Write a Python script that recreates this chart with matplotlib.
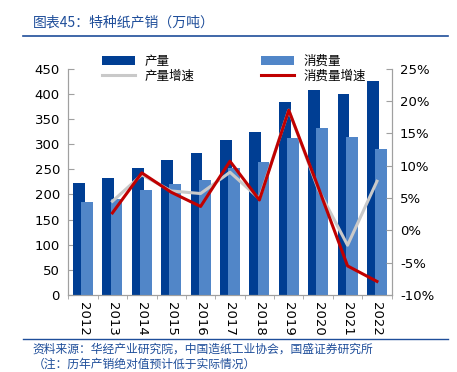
import numpy as np
import matplotlib
matplotlib.use("Agg")
import matplotlib.pyplot as plt
from matplotlib.ticker import FuncFormatter

plt.rcParams['font.family'] = ['DejaVu Sans', 'Noto Sans CJK SC']

# data
years = ['2012', '2013', '2014', '2015', '2016', '2017', '2018', '2019', '2020', '2021', '2022']
production = [222, 233, 253, 269, 283, 309, 324, 384, 408, 399, 426]
consumption = [186, 190, 208, 220, 228, 253, 264, 312, 333, 315, 290]
prod_growth = [np.nan, 4.5, 8.6, 6.1, 5.7, 9.0, 4.9, 18.6, 6.4, -2.3, 7.6]
cons_growth = [np.nan, 2.7, 8.9, 5.9, 3.7, 10.7, 4.7, 18.6, 6.7, -5.5, -7.9]

dark_blue = '#003e93'
light_blue = '#5186c8'
grey = '#c9c9c9'
red = '#c00000'
axis_grey = '#a0a0a0'
cjk = ['Noto Sans CJK SC', 'DejaVu Sans']

fig = plt.figure(figsize=(4.57, 3.72), dpi=100)
ax = fig.add_axes([0.1495, 0.207, 0.7075, 0.608])
ax2 = ax.twinx()

x = np.arange(len(years))
w = 0.4
b1 = ax.bar(x - 0.14, production, w, color=dark_blue, zorder=2)
b2 = ax.bar(x + 0.14, consumption, w, color=light_blue, zorder=3)

l1, = ax2.plot(x, prod_growth, color=grey, lw=2.2, zorder=4)
l2, = ax2.plot(x, cons_growth, color=red, lw=2.2, zorder=5)

ax.set_xlim(-0.5, len(years) - 0.5)
ax.set_ylim(0, 450)
ax.set_yticks(range(0, 451, 50))
ax2.set_ylim(-10, 25)
ax2.set_yticks(range(-10, 26, 5))
ax2.yaxis.set_major_formatter(FuncFormatter(lambda v, p: '%d%%' % v))

ax.set_xticks(x)
ax.set_xticklabels(years, rotation=-90)
ax.set_xticks(np.arange(-0.5, len(years), 1), minor=True)
ax.tick_params(axis='x', which='major', length=0, pad=5, labelsize=9.5)
ax.tick_params(axis='x', which='minor', length=3, direction='out', color=axis_grey)
ax.tick_params(axis='y', direction='in', length=4, color=axis_grey, labelsize=9.5, pad=6)
ax2.tick_params(axis='y', direction='in', length=4, color=axis_grey, labelsize=9.5, pad=6)

for a in (ax, ax2):
    a.spines['top'].set_visible(False)
    for s in ('left', 'right', 'bottom'):
        a.spines[s].set_color(axis_grey)
        a.spines[s].set_linewidth(0.8)

ax.set_zorder(ax2.get_zorder() - 1)
ax2.patch.set_visible(False)

# legend fills column-wise: bars on the first row, lines on the second
leg = ax2.legend([b1, l1, b2, l2], ['产量', '产量增速', '消费量', '消费量增速'],
                 ncol=2, loc='upper left', bbox_to_anchor=(0.09, 1.085),
                 frameon=False, prop={'family': cjk, 'size': 9},
                 handlelength=2.6, handleheight=0.7, columnspacing=5.3,
                 labelspacing=0.15, borderaxespad=0)

# header and footer
fig.text(0.072, 0.94, '图表45：特种纸产销（万吨）', family=cjk, fontsize=10,
         color='#1f4e9a', ha='left', va='center')
fig.add_artist(plt.Line2D([0.05, 0.98], [0.903, 0.903], color='#1f4e9a', lw=1.2))
fig.add_artist(plt.Line2D([0.05, 0.98], [0.09, 0.09], color='#1f4e9a', lw=1.0))
fig.text(0.072, 0.062, '资料来源：华经产业研究院，中国造纸工业协会，国盛证券研究所',
         family=cjk, fontsize=8.5, color='#1f4e9a', ha='left', va='center')
fig.text(0.072, 0.022, '（注：历年产销绝对值预计低于实际情况）',
         family=cjk, fontsize=8.5, color='#1f4e9a', ha='left', va='center')

fig.savefig('out.png', dpi=100)
